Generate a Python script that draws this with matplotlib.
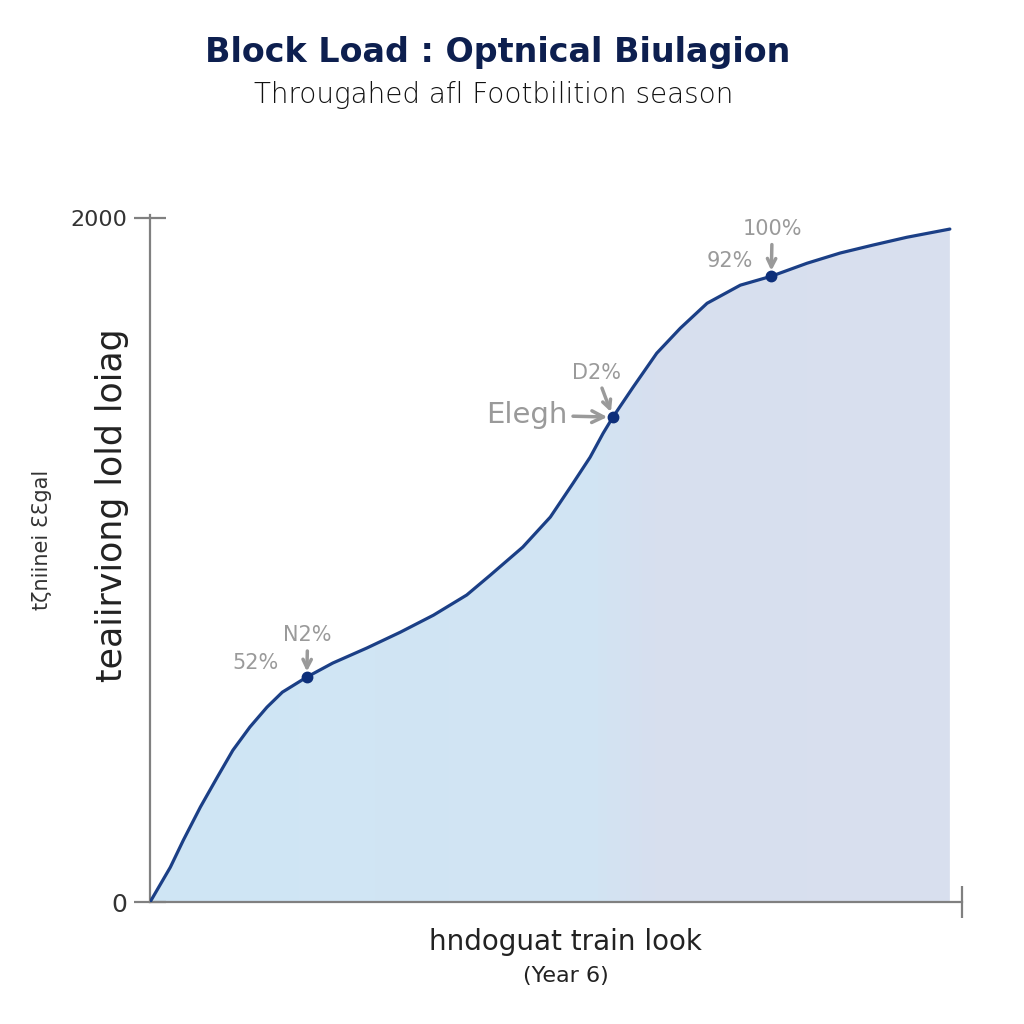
import numpy as np
import matplotlib.pyplot as plt
from matplotlib.colors import LinearSegmentedColormap

# Dados (semana da temporada em %, carga)
season_pct = [0, 2.5, 4.1, 6.2, 8.3, 10.2, 12.3, 14.4, 16.3, 19.3, 22.5, 26.7,
              30.8, 34.9, 39.0, 41.9, 45.9, 49.3, 52.1, 54.2, 55.8, 57.0, 59.5,
              62.4, 65.3, 68.6, 72.7, 76.5, 80.9, 85.0, 89.0, 93.2, 98.5]
load = [0, 102, 181, 278, 366, 444, 512, 570, 614, 658, 699, 743,
        789, 839, 898, 956, 1038, 1126, 1225, 1301, 1371, 1418, 1506,
        1605, 1678, 1751, 1804, 1830, 1868, 1898, 1921, 1944, 1968]

# Pontos marcados
mark_x = [19.3, 57.0, 76.5]
mark_y = [658, 1418, 1830]

title = 'Block Load : Optnical Biulagion'
subtitle = 'Througahed afl Footbilition season'
ylabel = 'teaiirviong lold loiag'
ylabel2 = 'tζniinei ƐƐgal'
xlabel = 'hndoguat train look'
xlabel2 = '(Year 6)'

grey = '#9a9a9a'
navy = '#1b3f86'

fig = plt.figure(figsize=(10.24, 10.24), dpi=100)
ax = fig.add_axes([0.1465, 0.119, 0.793, 0.671])

# Área preenchida com gradiente
poly = ax.fill_between(season_pct, load, 0, color='none', lw=0)
cmap = LinearSegmentedColormap.from_list(
    'fill', [(0, '#cfe6f5'), (0.55, '#d2e4f3'), (0.62, '#d7dfef'), (1, '#d9e0ee')])
grad = np.linspace(0, 1, 256).reshape(1, -1)
im = ax.imshow(grad, cmap=cmap, aspect='auto', extent=[0, 100, 0, 2009],
               origin='lower', zorder=1)
im.set_clip_path(poly.get_paths()[0], transform=ax.transData)

# Linha principal
ax.plot(season_pct, load, color=navy, lw=2.3, zorder=3,
        solid_capstyle='round', solid_joinstyle='round')
ax.plot(mark_x, mark_y, 'o', color='#0d2f7a', ms=7.5, zorder=4)

# Anotações
pct_font = dict(fontsize=15, color=grey, ha='center', va='center')
arrow = dict(arrowstyle='->', color=grey, lw=2.5, shrinkA=2, shrinkB=4)
ax.annotate('N2%', (mark_x[0], mark_y[0]), xytext=(0.7, 30), textcoords='offset points',
            arrowprops=arrow, **pct_font)
ax.annotate('52%', (mark_x[0], mark_y[0]), xytext=(-37, 10), textcoords='offset points',
            **pct_font)
ax.annotate('D2%', (mark_x[1], mark_y[1]), xytext=(-12, 32), textcoords='offset points',
            arrowprops=arrow, **pct_font)
ax.annotate('Elegh', (mark_x[1], mark_y[1]), xytext=(-62, 1.5), textcoords='offset points',
            arrowprops=arrow, fontsize=21, color=grey, ha='center', va='center')
ax.annotate('100%', (mark_x[2], mark_y[2]), xytext=(0.7, 34), textcoords='offset points',
            arrowprops=arrow, **pct_font)
ax.annotate('92%', (mark_x[2], mark_y[2]), xytext=(-30, 11), textcoords='offset points',
            **pct_font)

# Eixos
ax.set_xlim(0, 100)
ax.set_ylim(0, 2009)
for s in ['top', 'right']:
    ax.spines[s].set_visible(False)
for s in ['left', 'bottom']:
    ax.spines[s].set_color('#808080')
    ax.spines[s].set_linewidth(1.6)
ax.set_yticks([0, 2000])
ax.set_yticklabels(['0', '2000'], color='#333333')
ax.get_yticklabels()[0].set_fontsize(18)
ax.get_yticklabels()[1].set_fontsize(16)
ax.set_xticks([100])
ax.set_xticklabels([''])
ax.tick_params(axis='both', direction='inout', length=23, width=1.6, color='#808080', pad=5)

fig.text(0.109, 0.507, ylabel, rotation=90, fontsize=25, color='#222222',
         ha='center', va='center')
fig.text(0.041, 0.473, ylabel2, rotation=90, fontsize=15, color='#333333',
         ha='center', va='center')
fig.text(0.552, 0.080, xlabel, fontsize=20, color='#222222', ha='center', va='center')
fig.text(0.553, 0.047, xlabel2, fontsize=16, color='#222222', ha='center', va='center')

fig.text(0.486, 0.949, title, fontsize=24, fontweight='bold', color='#0d1f4f',
         ha='center', va='center')
fig.text(0.482, 0.907, subtitle, fontsize=20, color='#111111', ha='center', va='center',
         fontweight='light')

plt.savefig('out.png', dpi=100)
